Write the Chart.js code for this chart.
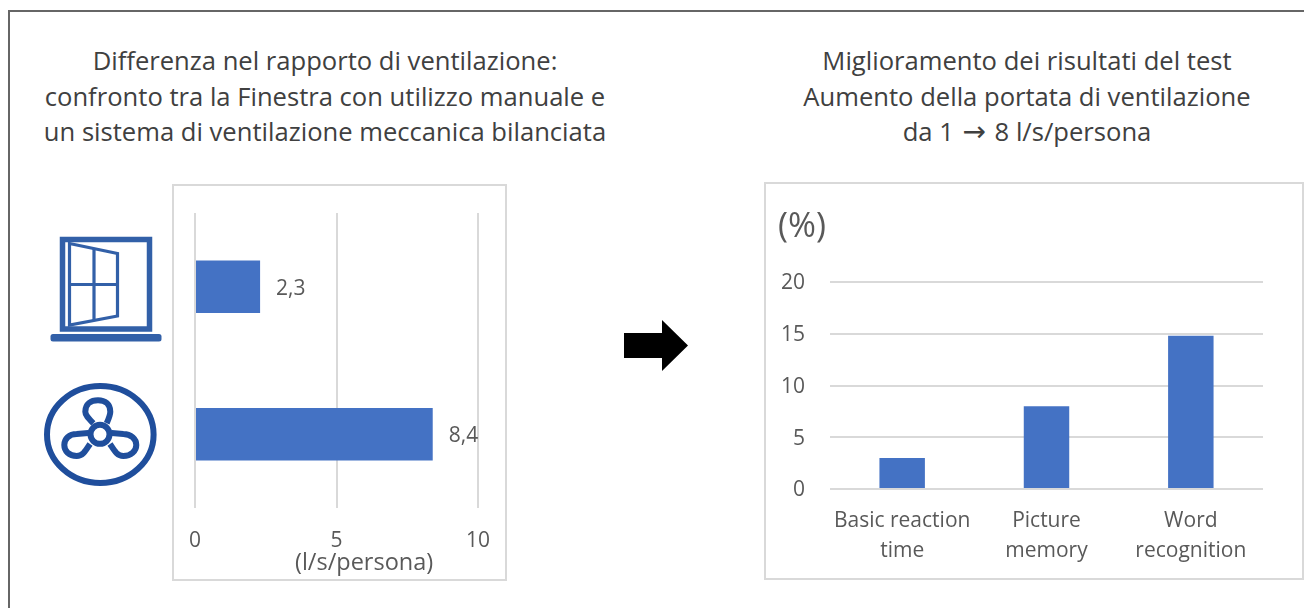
<!DOCTYPE html>
<html lang="it">
<head>
    <meta charset="UTF-8">
    <title>Ventilazione e risultati del test</title>
    <script src="https://cdn.jsdelivr.net/npm/chart.js@4/dist/chart.umd.min.js"></script>
    <style>
        html, body { margin: 0; padding: 0; width: 1304px; height: 608px; overflow: hidden; background: #fff; }
        body { position: relative; font-family: "Open Sans", sans-serif; }
        .frame { position: absolute; left: 8px; top: 10px; width: 1400px; height: 700px; border: 2px solid #666; }
        .title { position: absolute; top: 43px; text-align: center; font-size: 25.6px; line-height: 35.6px; color: #404040; white-space: nowrap; }
        .title .arrow { font-family: "DejaVu Sans", sans-serif; font-size: 28px; line-height: 0; margin: 0 2px; }
        .card { position: absolute; box-sizing: border-box; border: 2px solid #d9d9d9; background: #fff; }
        canvas { position: absolute; }
        .unit { position: absolute; color: #595959; white-space: nowrap; }
        svg { position: absolute; left: 0; top: 0; }
    </style>
</head>
<body>
    <div class="frame"></div>

    <div class="title" style="left:25px;width:600px">Differenza nel rapporto di ventilazione:<br>confronto tra la Finestra con utilizzo manuale e<br>un sistema di ventilazione meccanica bilanciata</div>
    <div class="title" style="left:727px;width:600px">Miglioramento dei risultati del test<br>Aumento della portata di ventilazione<br>da 1 <span class="arrow">→</span> 8 l/s/persona</div>

    <div class="card" style="left:172px;top:184px;width:335px;height:397px"></div>
    <div class="card" style="left:764px;top:182px;width:540px;height:398px"></div>

    <canvas id="ratioChart" width="333" height="395" style="left:173px;top:185px"></canvas>
    <canvas id="testChart" width="538" height="397" style="left:765px;top:183px"></canvas>

    <div class="unit" style="left:295px;top:546px;font-size:23.5px;line-height:30px">(l/s/persona)</div>
    <div class="unit" style="left:778px;top:202px;font-size:33.8px;line-height:44px">(%)</div>

    <!-- Icons and arrow -->
    <svg width="1304" height="608" viewBox="0 0 1304 608">
        <g fill="none" stroke="#3260a8">
            <rect x="62.5" y="239.5" width="87" height="89.5" stroke-width="5.5"/>
            <path d="M69.5 243.5 L117.5 253.5 L117.5 316 L69.5 325 Z" stroke-width="3.2"/>
            <path d="M94 248.5 V320.5 M69.5 284.5 H117.5" stroke-width="3.2"/>
        </g>
        <rect x="50.5" y="334" width="111" height="7.5" rx="2.5" fill="#3260a8"/>
        <g fill="none" stroke="#1f4e9c" stroke-width="6">
            <ellipse cx="100.3" cy="434.5" rx="53.3" ry="48.5"/>
            <circle cx="100" cy="434.3" r="9.5"/>
            <path d="M93.3 423.3 C88 418 85.3 415 85.3 411.7 C85.3 404 91 400.3 98 400.3 C105 400.3 110.3 404 110.3 411.7 C110.3 415 109 418 106.7 423.3"/>
            <path d="M88.3 433 L76.7 434 C69 434 64.3 439 64.3 445 C64.3 451 69 456 76.7 456 C83 456 86 450 90 444"/>
            <path d="M111.7 433 L123.3 434 C131 434 136.3 439 136.3 445 C136.3 451 131 456 123.3 456 C117 456 114 450 110 444"/>
        </g>
        <path d="M624 333 H662 V320 L688 345.5 L662 371 V358 H624 Z" fill="#000"/>
    </svg>

    <script>
        // Ventilation rate per person
        const ratioLabels = ['Finestra', 'Ventilazione meccanica'];
        const ratioValues = [2.3, 8.4];
        const ratioTicks = [0, 5, 10];

        // Test score improvement
        const testLabels = [['Basic reaction', 'time'], ['Picture', 'memory'], ['Word', 'recognition']];
        const testValues = [3, 8, 14.8];
        const testTicks = [0, 5, 10, 15, 20];

        const barColor = '#4472c4';
        const gridColor = '#d9d9d9';
        const textColor = '#595959';
        const fontFamily = '"Open Sans", sans-serif';

        // Writes the value next to each bar, with a decimal comma
        const barValues = {
            id: 'barValues',
            afterDatasetsDraw(chart) {
                const ctx = chart.ctx;
                const meta = chart.getDatasetMeta(0);
                ctx.save();
                ctx.font = '21px ' + fontFamily;
                ctx.fillStyle = textColor;
                ctx.textBaseline = 'middle';
                meta.data.forEach((bar, i) => {
                    const text = String(chart.data.datasets[0].data[i]).replace('.', ',');
                    ctx.fillText(text, bar.x + 16, bar.y + 2);
                });
                ctx.restore();
            }
        };

        new Chart(document.getElementById('ratioChart'), {
            type: 'bar',
            data: {
                labels: ratioLabels,
                datasets: [{ data: ratioValues, backgroundColor: barColor, barPercentage: 0.355, categoryPercentage: 1 }]
            },
            plugins: [barValues],
            options: {
                indexAxis: 'y',
                responsive: false,
                animation: false,
                layout: { padding: { left: 22, right: 28, top: 28, bottom: 0 } },
                plugins: { legend: { display: false }, tooltip: { enabled: false } },
                scales: {
                    y: { display: false },
                    x: {
                        min: 0,
                        max: 10,
                        afterBuildTicks(scale) { scale.ticks = ratioTicks.map(value => ({ value })); },
                        afterFit(scale) { scale.height = 72; scale.paddingLeft = 0; scale.paddingRight = 0; },
                        border: { display: false },
                        grid: { color: gridColor, lineWidth: 2, drawTicks: false },
                        ticks: { color: textColor, padding: 20, font: { family: fontFamily, size: 21 } }
                    }
                }
            }
        });

        new Chart(document.getElementById('testChart'), {
            type: 'bar',
            data: {
                labels: testLabels,
                datasets: [{ data: testValues, backgroundColor: barColor, barPercentage: 0.315, categoryPercentage: 1 }]
            },
            options: {
                responsive: false,
                animation: false,
                layout: { padding: { left: 0, right: 40, top: 99, bottom: 0 } },
                plugins: { legend: { display: false }, tooltip: { enabled: false } },
                scales: {
                    y: {
                        min: 0,
                        max: 20,
                        afterBuildTicks(scale) { scale.ticks = testTicks.map(value => ({ value })); },
                        afterFit(scale) { scale.width = 65; },
                        border: { display: false },
                        grid: { color: gridColor, lineWidth: 2, drawTicks: false },
                        ticks: { color: textColor, padding: 25, labelOffset: 1.5, font: { family: fontFamily, size: 21 } }
                    },
                    x: {
                        afterFit(scale) { scale.height = 91; },
                        border: { display: false },
                        grid: { display: false },
                        ticks: { color: textColor, padding: 9, maxRotation: 0, font: { family: fontFamily, size: 21, lineHeight: 1.43 } }
                    }
                }
            }
        });
    </script>
</body>
</html>
